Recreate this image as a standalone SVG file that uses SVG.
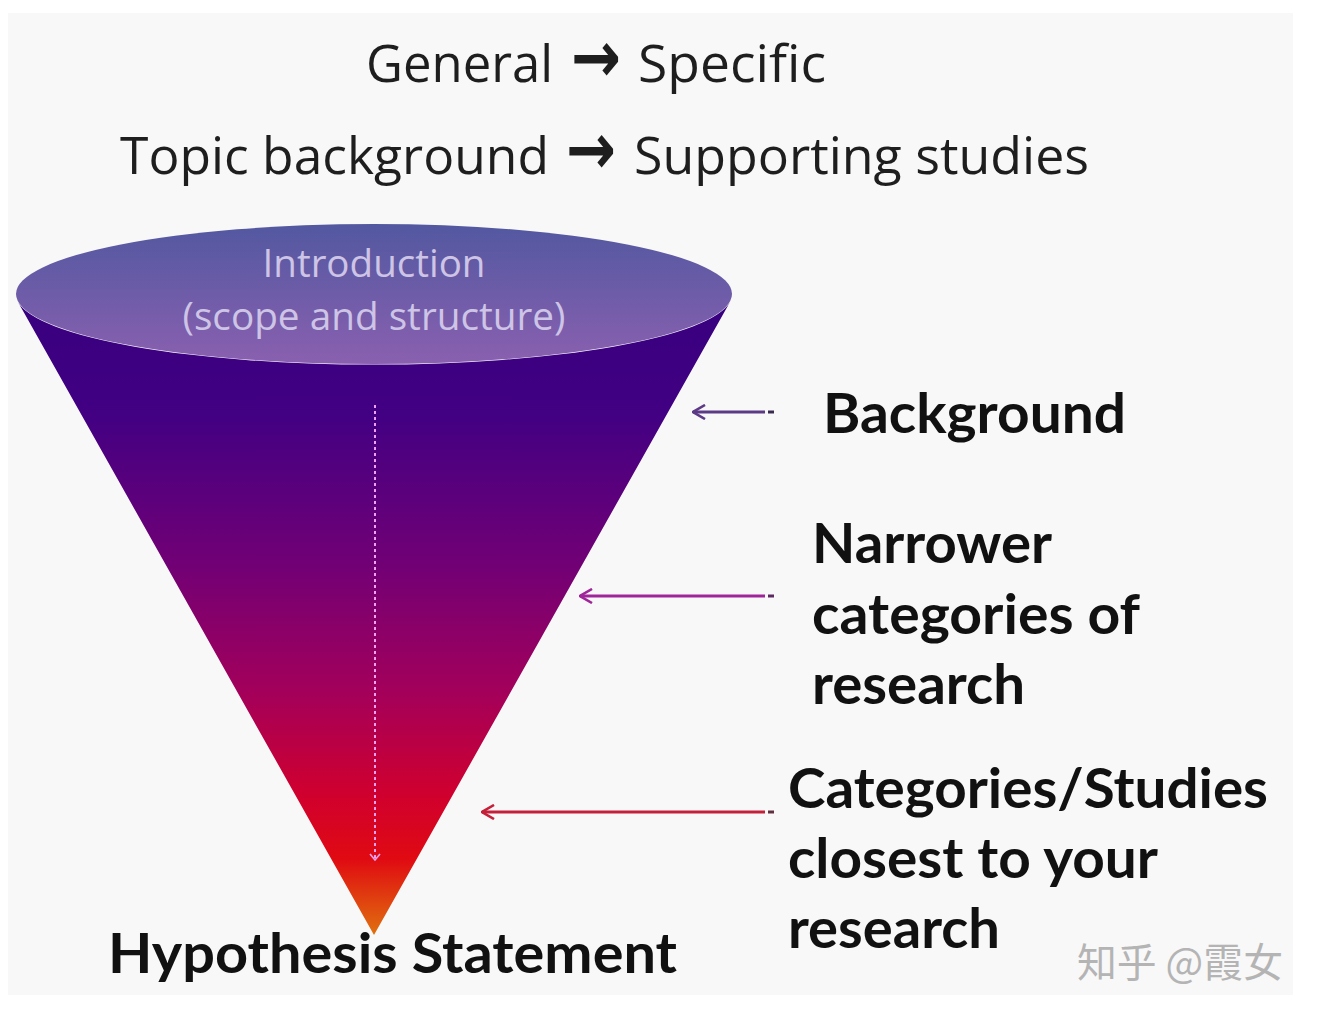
<svg xmlns="http://www.w3.org/2000/svg" width="1318" height="1018" viewBox="0 0 1318 1018">
<defs>
<linearGradient id="coneGrad" gradientUnits="userSpaceOnUse" x1="0" y1="300" x2="0" y2="935">
<stop offset="0" stop-color="#37007f"/>
<stop offset="0.18" stop-color="#420083"/>
<stop offset="0.42" stop-color="#720075"/>
<stop offset="0.62" stop-color="#a4005a"/>
<stop offset="0.78" stop-color="#d0002e"/>
<stop offset="0.88" stop-color="#e00a12"/>
<stop offset="1" stop-color="#e0700e"/>
</linearGradient>
<linearGradient id="topGrad" x1="0" y1="0" x2="0" y2="1">
<stop offset="0" stop-color="#5258a0"/>
<stop offset="1" stop-color="#8a60b0"/>
</linearGradient>
<marker id="headBg" viewBox="0 0 14 16" refX="13" refY="8" markerWidth="14" markerHeight="16" markerUnits="userSpaceOnUse" orient="auto">
<path d="M1,1 L13,8 L1,15" fill="none" stroke="#5c3a86" stroke-width="2.6"/>
</marker>
<marker id="headNar" viewBox="0 0 14 16" refX="13" refY="8" markerWidth="14" markerHeight="16" markerUnits="userSpaceOnUse" orient="auto">
<path d="M1,1 L13,8 L1,15" fill="none" stroke="#a0259a" stroke-width="2.6"/>
</marker>
<marker id="headCat" viewBox="0 0 14 16" refX="13" refY="8" markerWidth="14" markerHeight="16" markerUnits="userSpaceOnUse" orient="auto">
<path d="M1,1 L13,8 L1,15" fill="none" stroke="#c4203a" stroke-width="2.6"/>
</marker>
<marker id="headDot" viewBox="0 0 12 12" refX="6" refY="10" markerWidth="12" markerHeight="12" markerUnits="userSpaceOnUse" orient="0">
<path d="M1,4 L6,10 L11,4" fill="none" stroke="#f0a0f0" stroke-width="1.6"/>
</marker>
<style>
.head{font-family:"Open Sans","Liberation Sans",sans-serif;fill:#1e1e1e;}
.arr{font-family:"DejaVu Sans",sans-serif;font-weight:bold;}
.lbl{font-family:Lato,"Liberation Sans",sans-serif;font-weight:bold;fill:#111;font-size:56px;}
.intro{font-family:"Open Sans","Liberation Sans",sans-serif;fill:#cdc4e6;font-size:38px;text-anchor:middle;}
.conn{fill:none;stroke-width:3;}
.wm{font-family:"Noto Sans CJK SC",sans-serif;fill:#b4b4b4;font-size:40px;}
</style>
</defs>
<rect x="0" y="0" width="1318" height="1018" fill="#ffffff"/>
<rect x="8" y="13" width="1285" height="982" fill="#f8f8f8"/>

<g id="title">
<text class="head" y="82" font-size="51"><tspan x="366" textLength="187" lengthAdjust="spacingAndGlyphs">General</tspan><tspan class="arr" x="571" font-size="72" textLength="50" lengthAdjust="spacingAndGlyphs">→</tspan><tspan x="638" textLength="188" lengthAdjust="spacingAndGlyphs">Specific</tspan></text>
<text class="head" y="174" font-size="52"><tspan x="120" textLength="429" lengthAdjust="spacingAndGlyphs">Topic background</tspan><tspan class="arr" x="566" font-size="72" textLength="50" lengthAdjust="spacingAndGlyphs">→</tspan><tspan x="634" textLength="455" lengthAdjust="spacingAndGlyphs">Supporting studies</tspan></text>
</g>

<g id="funnel">
<path d="M18,302 A358,70 0 0 0 730,302 L374,935 Z" fill="url(#coneGrad)"/>
<ellipse cx="374" cy="294" rx="358" ry="70" fill="url(#topGrad)"/>
<text class="intro" x="374" y="277" textLength="223" lengthAdjust="spacingAndGlyphs">Introduction</text>
<text class="intro" x="374" y="330" textLength="383" lengthAdjust="spacingAndGlyphs">(scope and structure)</text>
</g>

<g id="connectors">
<line x1="375" y1="405" x2="375" y2="860" stroke="#f0a0f0" stroke-width="2" stroke-dasharray="3 3" marker-end="url(#headDot)"/>
<line class="conn" x1="765" y1="412" x2="693" y2="412" stroke="#5c3a86" marker-end="url(#headBg)"/>
<line class="conn" x1="768" y1="412" x2="774" y2="412" stroke="#3a2a50"/>
<line class="conn" x1="765" y1="596" x2="580" y2="596" stroke="#a0259a" marker-end="url(#headNar)"/>
<line class="conn" x1="768" y1="596" x2="774" y2="596" stroke="#5a2a60"/>
<line class="conn" x1="765" y1="812" x2="482" y2="812" stroke="#c4203a" marker-end="url(#headCat)"/>
<line class="conn" x1="768" y1="812" x2="774" y2="812" stroke="#603040"/>
</g>

<g id="background-label">
<text class="lbl" x="823" y="433" textLength="303" lengthAdjust="spacingAndGlyphs">Background</text>
</g>
<g id="narrower-label">
<text class="lbl" x="812" y="563" textLength="240" lengthAdjust="spacingAndGlyphs">Narrower</text>
<text class="lbl" x="812" y="634" textLength="328" lengthAdjust="spacingAndGlyphs">categories of</text>
<text class="lbl" x="812" y="704" textLength="213" lengthAdjust="spacingAndGlyphs">research</text>
</g>
<g id="closest-label">
<text class="lbl" x="788" y="808" textLength="480" lengthAdjust="spacingAndGlyphs">Categories/Studies</text>
<text class="lbl" x="788" y="878" textLength="370" lengthAdjust="spacingAndGlyphs">closest to your</text>
<text class="lbl" x="788" y="948" textLength="212" lengthAdjust="spacingAndGlyphs">research</text>
</g>
<g id="hypothesis">
<text class="lbl" x="108" y="973" textLength="569" lengthAdjust="spacingAndGlyphs">Hypothesis Statement</text>
</g>
<g id="watermark">
<text class="wm" x="1077" y="977" textLength="206" lengthAdjust="spacingAndGlyphs">知乎 @霞女</text>
</g>
</svg>
